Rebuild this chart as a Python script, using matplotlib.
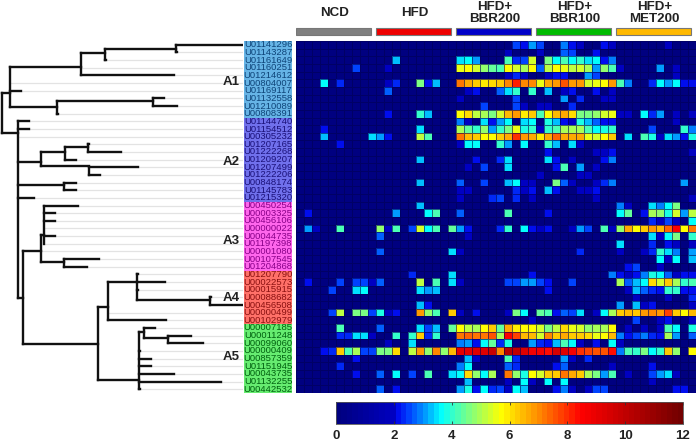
import numpy as np
import matplotlib
matplotlib.use('Agg')
import matplotlib.pyplot as plt
from matplotlib.colors import LinearSegmentedColormap

plt.rcParams['font.family'] = ['Liberation Sans', 'DejaVu Sans']

# --- Data ---
clusters = ['A1', 'A2', 'A3', 'A4', 'A5']
cluster_rows = [4.85, 15.3, 25.7, 33.1, 40.8]
cluster_sizes = [10, 11, 9, 7, 9]
cluster_fill = ['#66b4e6', '#7070ec', '#ff66ec', '#ff7068', '#66ec70']
cluster_text = ['#0e4478', '#1a1078', '#880088', '#8a1010', '#00600f']

row_labels = [
    'U01141296', 'U01143287', 'U01161649', 'U01160251', 'U01214612', 'U00804007', 'U01169117', 'U01132558',
    'U01210089', 'U00808391',
    'U01144740', 'U01154512', 'U00305232', 'U01207165', 'U01222268', 'U01209207', 'U01207499', 'U01222206',
    'U00848174', 'U01145783', 'U01215320',
    'U00450254', 'U00003325', 'U00456106', 'U00000022', 'U00044735', 'U01197398', 'U00001080', 'U00107545',
    'U01204868',
    'U01207790', 'U00022573', 'U00015915', 'U00088682', 'U00456508', 'U00000499', 'U00102979',
    'U00007185', 'U00011248', 'U00099060', 'U00000409', 'U00857359', 'U01151945', 'U00043735', 'U01132255',
    'U00442532',
]

groups = ['NCD', 'HFD', 'HFD+\nBBR200', 'HFD+\nBBR100', 'HFD+\nMET200']
group_colors = ['#808080', '#ee0000', '#0000c8', '#00bb00', '#ffb900']

# row -> {column: value}, everything else is zero
a1_cells = {
    0: {27: 2.5, 28: 2.1, 29: 3.0, 30: 2.5, 33: 2.9, 34: 2.1, 35: 2.0, 38: 2.1, 39: 2.0, 46: 2.0},
    1: {26: 2.0, 30: 2.0, 33: 2.8, 34: 2.6, 37: 2.1},
    2: {12: 3.2, 20: 3.5, 21: 3.6, 22: 3.0, 26: 4.2, 27: 2.4, 28: 2.6, 29: 5.3, 31: 4.6, 32: 3.7, 33: 4.2, 34: 3.7,
        35: 4.1, 36: 3.5, 37: 3.6, 38: 2.1, 39: 2.9},
    3: {7: 2.5, 11: 2.0, 20: 5.6, 21: 5.7, 22: 5.3, 23: 4.7, 24: 4.4, 25: 4.3, 26: 5.7, 27: 5.4, 28: 4.9, 29: 5.7,
        30: 2.8, 31: 5.2, 32: 5.7, 33: 5.6, 34: 5.2, 35: 5.3, 36: 4.9, 37: 3.1, 38: 4.8, 39: 4.3, 40: 2.0, 45: 3.0,
        47: 2.0},
    4: {26: 2.0, 27: 2.4, 28: 2.0, 31: 2.0, 32: 2.1, 33: 2.2, 36: 3.0, 37: 2.6, 47: 2.0},
    5: {3: 3.6, 5: 2.4, 11: 2.0, 12: 2.3, 15: 4.6, 16: 2.2, 17: 3.3, 20: 7.2, 21: 6.6, 22: 6.3, 23: 5.9, 24: 6.0,
        25: 6.3, 26: 7.1, 27: 8.2, 28: 7.1, 29: 7.0, 30: 5.6, 31: 6.7, 32: 6.9, 33: 7.6, 34: 6.8, 35: 6.9, 36: 5.4,
        37: 5.6, 38: 5.7, 39: 6.9, 40: 4.3, 41: 2.9, 44: 2.4, 45: 3.6, 46: 3.0, 47: 3.7, 48: 2.1, 49: 2.1},
    6: {11: 2.8, 21: 2.0, 22: 2.2, 25: 2.7, 26: 3.4, 27: 4.0, 29: 4.1, 31: 3.2, 33: 2.0, 34: 2.1, 37: 2.2, 39: 2.0},
    7: {20: 2.0, 27: 2.6, 33: 3.0, 35: 2.4, 38: 2.0, 39: 2.0},
    8: {23: 2.6, 27: 2.5, 28: 2.0, 30: 2.0, 31: 2.0, 34: 2.4},
    9: {11: 2.1, 15: 4.1, 16: 3.2, 20: 5.7, 21: 6.0, 22: 5.2, 23: 5.0, 24: 4.6, 25: 5.3, 26: 6.4, 27: 6.9, 28: 5.9,
        29: 6.2, 30: 4.2, 31: 5.7, 32: 6.4, 33: 6.6, 34: 6.0, 35: 4.5, 36: 4.6, 37: 4.7, 38: 5.3, 39: 5.6, 40: 2.0,
        41: 2.0, 43: 3.6, 44: 2.4, 45: 3.0, 47: 2.0, 49: 2.0},
}
a2_cells = {
    10: {20: 2.9, 21: 2.0, 23: 3.4, 24: 2.2, 25: 3.0, 26: 3.6, 28: 3.5, 29: 3.6, 31: 3.9, 32: 3.3, 33: 2.1, 34: 2.0,
         35: 3.9, 36: 3.3, 37: 2.8, 38: 2.1, 39: 2.1, 47: 2.0},
    11: {3: 2.2, 15: 3.4, 20: 4.9, 21: 4.4, 22: 4.1, 23: 4.8, 24: 3.0, 25: 4.0, 26: 4.6, 27: 5.6, 28: 3.9, 29: 4.0,
         30: 2.0, 31: 4.1, 32: 4.3, 33: 5.0, 34: 4.9, 35: 5.0, 36: 4.3, 37: 3.7, 38: 3.9, 39: 4.0, 44: 2.6, 48: 4.1,
         49: 2.9},
    12: {3: 3.2, 9: 3.4, 10: 3.0, 11: 2.1, 15: 5.2, 16: 4.2, 20: 7.3, 21: 6.5, 22: 6.2, 23: 5.8, 24: 5.7, 25: 6.3,
         26: 6.7, 27: 8.0, 28: 6.9, 29: 6.6, 30: 5.9, 31: 6.6, 32: 7.4, 33: 6.7, 34: 6.6, 35: 6.6, 36: 5.5, 37: 5.3,
         38: 5.7, 39: 6.2, 41: 3.5, 43: 4.2, 44: 3.9, 45: 2.0, 46: 3.4, 47: 3.0, 48: 2.1, 49: 3.9},
    13: {5: 2.2, 20: 2.0, 21: 3.7, 22: 3.6, 25: 4.1, 26: 3.1, 28: 3.6, 31: 4.0, 32: 3.3, 34: 3.5, 35: 2.0},
    14: {31: 2.1, 37: 2.0, 38: 2.0, 39: 2.1, 49: 2.0},
    15: {15: 3.3, 22: 2.2, 25: 2.4, 26: 3.4, 31: 3.4, 32: 2.1, 34: 2.0, 38: 2.1, 39: 2.9},
    16: {21: 2.0, 23: 2.5, 26: 3.5, 32: 2.1, 33: 4.3, 35: 3.0, 37: 2.0},
    17: {30: 2.0, 35: 2.0, 36: 2.0},
    18: {15: 3.3, 20: 2.8, 23: 2.5, 26: 3.3, 27: 3.6, 28: 2.0, 29: 2.0, 32: 4.6, 33: 2.7, 34: 2.0, 37: 2.0, 38: 2.4,
         39: 2.9, 48: 3.1},
    19: {20: 2.0, 21: 2.0, 27: 2.3, 28: 2.0, 29: 2.1, 31: 3.3, 32: 2.1, 35: 2.0, 36: 2.0, 37: 2.1},
    20: {20: 2.0, 24: 2.4, 25: 2.6, 27: 2.4, 29: 2.0, 37: 2.0, 49: 2.0},
}
a3_cells = {
    21: {15: 3.3, 40: 2.9, 41: 2.0, 44: 3.4, 45: 2.9, 46: 3.6, 47: 4.6},
    22: {1: 2.2, 12: 3.0, 16: 3.7, 17: 4.2, 20: 2.8, 26: 4.2, 31: 2.1, 40: 3.6, 41: 4.4, 43: 2.1, 44: 4.9, 45: 4.7,
         46: 3.9, 47: 5.3, 48: 3.0, 49: 5.1},
    23: {44: 2.3, 45: 2.0, 46: 2.6, 47: 2.0, 49: 3.7},
    24: {1: 3.0, 2: 2.0, 5: 4.3, 10: 4.8, 11: 2.0, 12: 4.3, 14: 2.5, 15: 5.3, 16: 3.7, 17: 4.2, 19: 4.4, 20: 3.0,
         21: 2.1, 25: 2.4, 26: 4.1, 28: 3.6, 29: 2.1, 30: 2.0, 31: 2.1, 34: 2.0, 35: 3.0, 36: 2.5, 38: 4.3, 39: 2.0,
         40: 4.7, 41: 6.6, 42: 5.7, 43: 6.2, 44: 6.9, 45: 6.5, 46: 7.4, 47: 8.6, 48: 5.8, 49: 7.2},
    25: {10: 2.7, 21: 2.0, 44: 3.4, 45: 2.0, 46: 3.7, 47: 4.6, 49: 4.1},
    26: {40: 3.5, 44: 2.4, 46: 2.1, 47: 2.0, 49: 2.0},
    27: {10: 2.7, 19: 3.4, 20: 2.0, 35: 2.3, 40: 2.0, 43: 2.0, 44: 2.3, 45: 4.0, 46: 3.5, 47: 2.9, 49: 3.0},
    28: {45: 3.6, 46: 2.0, 47: 3.7, 49: 3.2},
    29: {41: 2.1, 42: 2.5, 45: 2.0},
}
a4_cells = {
    30: {14: 2.4, 19: 3.4, 29: 2.1, 39: 2.9, 40: 2.1, 41: 2.0, 42: 2.1, 43: 2.9, 44: 3.9, 45: 3.6, 46: 2.7, 47: 2.0,
         48: 2.1, 49: 2.1},
    31: {1: 2.2, 5: 2.6, 7: 2.5, 8: 2.6, 9: 2.0, 10: 2.8, 15: 5.2, 17: 4.3, 19: 3.4, 20: 2.0, 26: 2.6, 27: 2.6,
         28: 3.0, 29: 3.1, 30: 2.5, 31: 2.2, 34: 2.5, 40: 5.0, 41: 2.7, 42: 3.3, 43: 3.6, 44: 6.0, 45: 5.3, 46: 6.3,
         47: 4.9, 48: 4.1, 49: 4.2},
    32: {4: 2.5, 7: 3.5, 8: 3.6, 15: 3.4, 16: 3.1, 17: 3.3, 31: 2.1, 41: 2.0, 42: 3.3, 43: 2.7, 44: 2.4, 45: 2.1,
         46: 4.0, 47: 4.1, 48: 2.2, 49: 2.1},
    33: {42: 2.0, 46: 2.0, 49: 2.4},
    34: {15: 3.3, 16: 2.1, 40: 3.0, 42: 3.3, 43: 2.0, 44: 2.2, 49: 2.0},
    35: {4: 2.6, 5: 5.2, 7: 4.6, 8: 4.6, 9: 2.5, 10: 3.8, 11: 2.0, 12: 2.2, 15: 6.9, 16: 4.7, 17: 4.3, 19: 6.3,
         20: 2.0, 22: 2.2, 26: 2.0, 27: 4.5, 28: 3.6, 30: 4.4, 31: 4.3, 32: 2.1, 33: 2.8, 34: 2.5, 35: 3.4, 37: 2.0,
         38: 3.6, 39: 4.9, 40: 6.2, 41: 6.5, 42: 6.2, 43: 6.8, 44: 7.1, 45: 6.9, 46: 7.7, 47: 6.3, 48: 5.8, 49: 6.4},
    36: {29: 2.0, 42: 2.5, 45: 2.0, 46: 2.1, 49: 2.0},
}
a5_cells = {
    37: {5: 4.2, 10: 2.8, 15: 3.4, 16: 2.5, 17: 3.3, 19: 4.4, 20: 5.8, 21: 5.2, 22: 5.0, 23: 5.7, 24: 6.3, 25: 4.4,
         26: 6.7, 27: 5.9, 28: 5.8, 29: 5.7, 30: 5.3, 31: 4.6, 32: 5.1, 33: 6.0, 34: 5.6, 35: 5.4, 36: 4.8, 37: 5.0,
         38: 5.0, 39: 5.7, 41: 2.0, 43: 2.0, 45: 2.0, 46: 4.2, 47: 3.6, 49: 3.8},
    38: {5: 2.4, 6: 2.4, 7: 3.5, 8: 3.5, 9: 2.0, 12: 4.1, 14: 4.0, 15: 6.3, 16: 2.4, 17: 4.1, 20: 7.2, 21: 7.4,
         22: 7.3, 23: 7.2, 24: 7.5, 25: 5.0, 26: 8.5, 27: 7.8, 28: 6.4, 29: 6.5, 30: 5.4, 31: 7.0, 32: 6.3, 33: 6.7,
         34: 6.2, 35: 6.3, 36: 6.1, 37: 5.6, 38: 5.7, 39: 6.4, 40: 2.9, 41: 2.1, 42: 2.5, 43: 2.9, 44: 2.4, 45: 2.1,
         46: 5.0, 47: 3.1, 49: 2.8},
    39: {11: 2.0, 14: 3.5, 20: 2.9, 21: 3.1, 22: 2.1, 23: 3.6, 24: 4.4, 25: 2.3, 26: 3.9, 29: 3.0, 30: 2.4, 31: 2.2,
         32: 3.2, 33: 4.2, 34: 3.6, 35: 2.0, 37: 2.1, 39: 3.6, 40: 2.0},
    40: {3: 2.2, 4: 2.4, 5: 6.2, 6: 4.3, 7: 5.0, 8: 2.6, 9: 2.5, 10: 4.6, 11: 4.5, 12: 6.0, 14: 5.2, 15: 6.9, 16: 4.8,
         17: 7.0, 18: 4.8, 19: 6.4, 20: 9.0, 21: 9.0, 22: 9.2, 23: 9.3, 24: 9.8, 25: 7.0, 26: 10.3, 27: 10.0, 28: 9.2,
         29: 8.8, 30: 8.7, 31: 8.4, 32: 9.4, 33: 9.2, 34: 8.7, 35: 8.0, 36: 7.8, 37: 7.5, 38: 7.6, 39: 8.4, 40: 2.9,
         41: 4.3, 42: 4.0, 43: 4.5, 44: 3.6, 45: 4.0, 46: 6.3, 47: 4.7, 49: 5.7},
    41: {7: 2.2, 21: 3.2, 22: 2.0, 26: 4.2, 27: 2.4, 33: 3.0, 34: 2.0, 36: 2.4},
    42: {5: 2.4, 20: 2.9, 21: 3.6, 26: 2.7, 27: 2.4, 32: 2.1, 33: 2.8, 39: 2.0, 44: 2.1},
    43: {7: 2.2, 10: 2.7, 12: 3.6, 14: 2.5, 16: 4.2, 19: 3.4, 20: 3.7, 21: 6.0, 22: 4.7, 23: 3.6, 24: 5.0, 26: 7.2,
         27: 4.8, 28: 3.8, 29: 5.7, 30: 5.4, 31: 6.2, 32: 6.3, 33: 7.2, 34: 6.6, 35: 6.3, 36: 4.9, 37: 4.6, 38: 3.1,
         39: 4.2, 41: 2.0, 44: 2.5, 45: 3.0, 46: 3.4, 47: 2.0},
    44: {21: 3.2, 26: 2.0, 28: 3.7, 29: 2.0, 31: 3.6, 33: 3.6, 44: 2.0},
    45: {10: 2.8, 12: 2.2, 20: 3.0, 21: 3.9, 22: 2.1, 23: 3.6, 24: 2.3, 25: 2.5, 26: 2.0, 27: 3.6, 28: 3.2, 32: 2.2,
         33: 2.9, 34: 2.0, 36: 2.0, 37: 2.6, 38: 2.5, 47: 2.1, 48: 2.2},
}

# dendrogram: a leaf is (distance, row), a node is (distance, branch position, children)
tree_a = (10, 6.8, [
    (81, 3.4, [
        (105, 1.6, [(176, 1.0, [(243, 0), (177, 1)]), (106, 2)]),
        (81, 3), (174, 4)]),
    (10, 5), (21, 6),
    (57, 8.6, [(153, 7.85, [(164, 7), (177, 8)]), (58, 9)]),
])
tree_c = (22.7, 33.6, [
    (40.7, 27.5, [
        (43.5, 25.4, [(78, 21), (55, 22), (55, 23), (44, 24), (55, 25), (44, 26)]),
        (41, 27),
        (64, 28.85, [(99, 28), (87, 29)]),
    ]),
    (97.7, 39.6, [
        (107.7, 34.8, [
            (136.5, 31.5, [(138, 30), (165, 31), (138, 32), (210, 33.9, [(211, 33), (242, 34)])]),
            (108, 35), (166, 36),
        ]),
        (139, 44.3, [
            (144, 38.0, [(155, 37), (168, 38.8, [(191, 38), (203, 39)])]),
            (140, 40), (151, 41), (151, 42), (174, 43), (221, 44), (140, 45),
        ]),
    ]),
])
tree_b = (17.7, 12.0, [
    (29, 10), (29, 11), (18, 12),
    (41, 15.8, [
        (65, 14.5, [(88, 13.8, [(89, 13), (121, 14)]), (76, 15)]),
        (88.5, 16.3, [(138, 16), (100, 17)]),
    ]),
    (64, 18.8, [(76, 18), (76, 19)]),
    (34, 20),
    tree_c,
])
tree_root = (2.3, 9.4, [tree_a, tree_b])

# colorbar stops
cmap_values = [0, 1.9, 2.0, 2.5, 3.0, 3.6, 4.6, 5.7, 7.0, 8.5, 12]
cmap_colors = [(0, 0, 0.5), (0, 0, 0.75), (0, 0, 0.92), (0, 0.27, 1), (0, 0.58, 1), (0, 1, 1), (0.5, 1, 0.5),
               (1, 1, 0), (1, 0.55, 0), (1, 0, 0), (0.45, 0, 0)]
cbar_ticks = [0, 2, 4, 6, 8, 10, 12]

# --- Build matrix ---
matrix = np.zeros((len(row_labels), 50))
for cells in (a1_cells, a2_cells, a3_cells, a4_cells, a5_cells):
    for row, values in cells.items():
        for col, value in values.items():
            matrix[row, col] = value

cmap = LinearSegmentedColormap.from_list('heat', [(v / 12, c) for v, c in zip(cmap_values, cmap_colors)], N=64)

W, H = 700, 443


def px_axes(x0, y0, x1, y1):
    # axes from pixel box, y measured from the top
    return fig.add_axes([x0 / W, 1 - y1 / H, (x1 - x0) / W, (y1 - y0) / H])


fig = plt.figure(figsize=(7, 4.43), dpi=100)

# --- Heatmap ---
ax_heat = px_axes(296, 41, 696, 393)
mesh = ax_heat.pcolormesh(matrix, cmap=cmap, vmin=0, vmax=12, edgecolors=(0, 0, 0.33, 0.6), linewidth=0.4)
ax_heat.set_xlim(0, 50)
ax_heat.set_ylim(len(row_labels), 0)
ax_heat.axis('off')

# --- Group bars and names ---
ax_top = px_axes(296, 0, 696, 41)
ax_top.set_xlim(0, 50)
ax_top.set_ylim(41, 0)
ax_top.axis('off')
for i, (name, color) in enumerate(zip(groups, group_colors)):
    ax_top.bar(10 * i + 4.7, 6.6, width=9.3, bottom=28.4, color=color, edgecolor='#777777', linewidth=0.8)
    ax_top.text(10 * i + 4.8, 13.5, name, ha='center', va='center', fontsize=9.6, fontweight='bold',
                color='#222222', linespacing=1.0)

# --- Dendrogram ---
ax_tree = px_axes(0, 41, 243, 393)
ax_tree.set_xlim(0, 243)
ax_tree.set_ylim(len(row_labels), 0)
ax_tree.axis('off')


def draw_tree(ax, node):
    # returns the row position of the node
    if len(node) == 2:
        ax.plot([node[0], 243], [node[1] + 0.5] * 2, color='#e3e3e3', lw=0.9, zorder=1, solid_capstyle='butt')
        return node[1] + 0.5
    dist, pos, children = node
    ys = []
    for child in children:
        y = draw_tree(ax, child)
        ax.plot([dist, child[0]], [y, y], color='#111111', lw=1.7, zorder=3, solid_capstyle='projecting')
        ys.append(y)
    ax.plot([dist, dist], [min(ys), max(ys)], color='#111111', lw=1.7, zorder=3, solid_capstyle='projecting')
    return pos


draw_tree(ax_tree, tree_root)
for name, row in zip(clusters, cluster_rows):
    ax_tree.text(239.5, row + 0.5, name, ha='right', va='center', fontsize=9.5, fontweight='bold', color='#222222',
                 zorder=4)

# --- Row labels ---
ax_lab = px_axes(244, 41, 292, 393)
ax_lab.set_xlim(0, 1)
ax_lab.set_ylim(len(row_labels), 0)
ax_lab.axis('off')
start = 0
for size, fill, tcolor in zip(cluster_sizes, cluster_fill, cluster_text):
    ax_lab.bar(0.5, size, width=1, bottom=start, color=fill, linewidth=0)
    for row in range(start, start + size):
        ax_lab.text(0.5, row + 0.5, row_labels[row], ha='center', va='center', fontsize=6.8, color=tcolor)
    start += size

# --- Colorbar ---
cax = px_axes(336, 402, 683, 424)
cbar = fig.colorbar(mesh, cax=cax, orientation='horizontal', ticks=cbar_ticks)
cbar.outline.set_edgecolor('#555555')
cbar.outline.set_linewidth(0.6)
cax.tick_params(axis='x', direction='in', length=2.5, width=0.6, color='#333333', top=True, bottom=True, pad=4,
                labelsize=9.5)
for label in cax.get_xticklabels():
    label.set_fontweight('bold')
    label.set_color('#222222')

plt.savefig('out.png', dpi=100)
